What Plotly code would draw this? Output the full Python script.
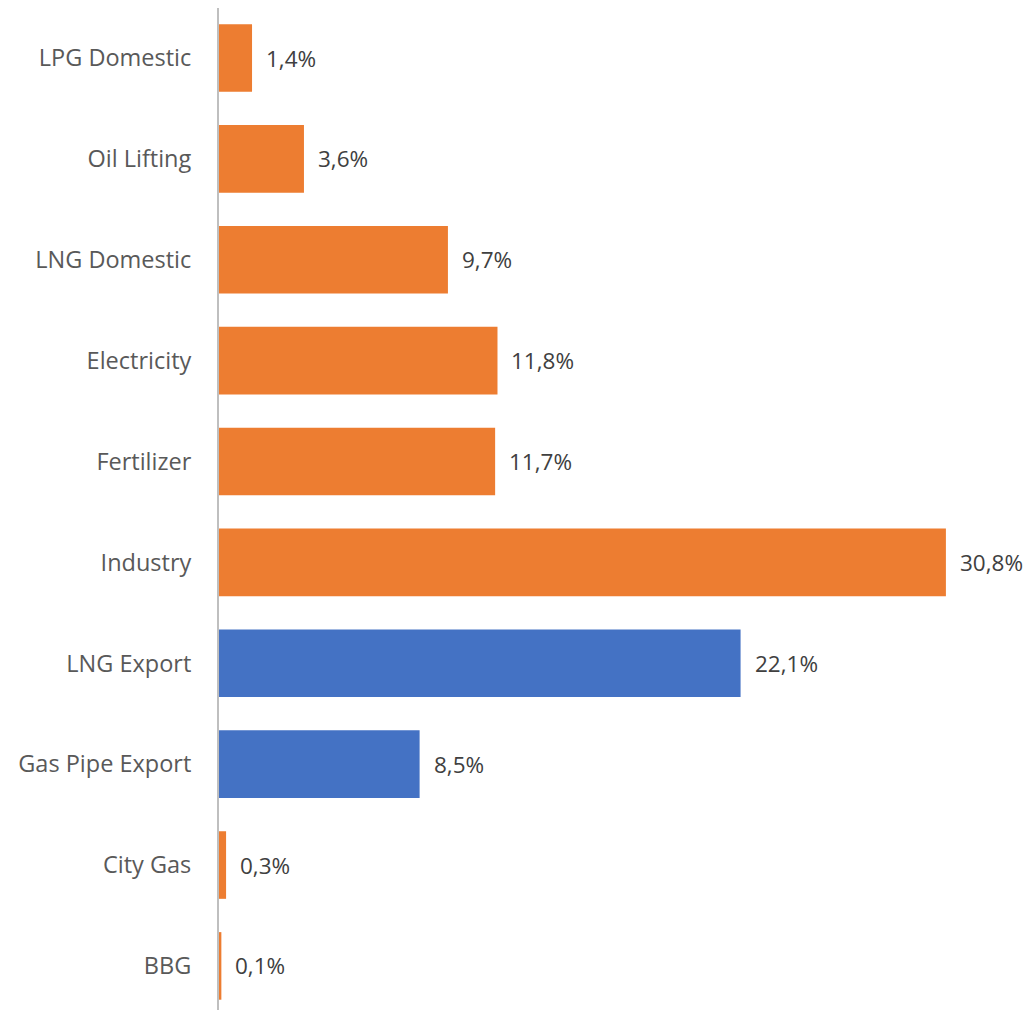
import plotly.graph_objects as go

# Gas allocation by sector, bottom to top
categories = ["BBG", "City Gas", "Gas Pipe Export", "LNG Export", "Industry",
              "Fertilizer", "Electricity", "LNG Domestic", "Oil Lifting", "LPG Domestic"]
shares = [0.1, 0.3, 8.5, 22.1, 30.8, 11.7, 11.8, 9.7, 3.6, 1.4]
is_export = [False, False, True, True, False, False, False, False, False, False]
value_labels = ["0,1%", "0,3%", "8,5%", "22,1%", "30,8%",
                "11,7%", "11,8%", "9,7%", "3,6%", "1,4%"]

ORANGE = "#ED7D31"
BLUE = "#4472C4"
colors = [BLUE if e else ORANGE for e in is_export]

FONT = "Open Sans, Carlito, Calibri, sans-serif"

fig = go.Figure(
    go.Bar(
        x=shares,
        y=categories,
        orientation="h",
        marker=dict(color=colors, line=dict(width=0)),
        width=0.67,
        hoverinfo="skip",
    )
)

for cat, val, lab in zip(categories, shares, value_labels):
    fig.add_annotation(
        x=val, y=cat, text=lab, showarrow=False,
        xanchor="left", yanchor="middle", xshift=12,
        font=dict(family=FONT, size=22.5, color="#404040"),
    )

fig.update_layout(
    width=1033, height=1010,
    margin=dict(l=219, r=0, t=8, b=0),
    paper_bgcolor="white", plot_bgcolor="white",
    showlegend=False,
)
fig.update_xaxes(
    range=[0, 34.49], visible=False, showgrid=False, zeroline=False,
)
fig.update_yaxes(
    type="category", categoryorder="array", categoryarray=categories,
    range=[-0.437, 9.496],
    showgrid=False, zeroline=False,
    showline=True, linecolor="#BFBFBF", linewidth=2,
    ticks="", ticklabelstandoff=21,
    tickfont=dict(family=FONT, size=23.5, color="#595959"),
)

fig.write_html("out.html")
